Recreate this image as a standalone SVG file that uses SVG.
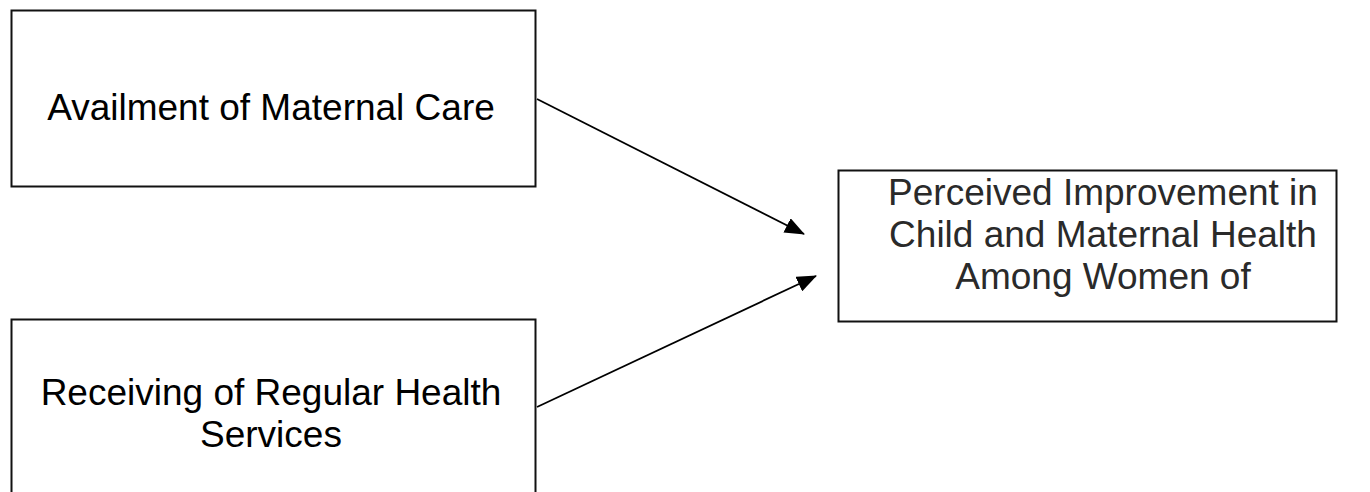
<svg xmlns="http://www.w3.org/2000/svg" width="1370" height="492" viewBox="0 0 1370 492">
<style>
.box{fill:#fff;stroke:#111;stroke-width:2}
.t{font-family:"Liberation Sans",Arial,sans-serif;font-size:37px;fill:#000;text-anchor:middle}
.t2{font-family:"Liberation Sans",Arial,sans-serif;font-size:37px;fill:#2a2a2a;text-anchor:middle}
.conn{stroke:#000;stroke-width:1.8;fill:none;marker-end:url(#ah)}
</style>
<defs>
<marker id="ah" markerWidth="20" markerHeight="16" refX="19" refY="8" orient="auto" markerUnits="userSpaceOnUse">
<path d="M0,0 L20,8 L0,16 Z" fill="#000"/>
</marker>
</defs>
<rect width="1370" height="492" fill="#fff"/>
<g id="node-availment">
<rect class="box" x="11.5" y="10.5" width="524" height="176"/>
<text class="t" x="271" y="120">Availment of Maternal Care</text>
</g>
<g id="node-receiving">
<rect class="box" x="11.5" y="319.5" width="524" height="190"/>
<text class="t" x="271" y="405">Receiving of Regular Health</text>
<text class="t" x="271" y="447">Services</text>
</g>
<g id="node-perceived">
<rect class="box" x="838.5" y="170.5" width="498" height="151"/>
<text class="t2" x="1103" y="205">Perceived Improvement in</text>
<text class="t2" x="1103" y="247">Child and Maternal Health</text>
<text class="t2" x="1103" y="289">Among Women of</text>
</g>
<g id="connectors">
<line class="conn" x1="537" y1="99" x2="804" y2="234"/>
<line class="conn" x1="537" y1="407" x2="816" y2="276"/>
</g>
</svg>
